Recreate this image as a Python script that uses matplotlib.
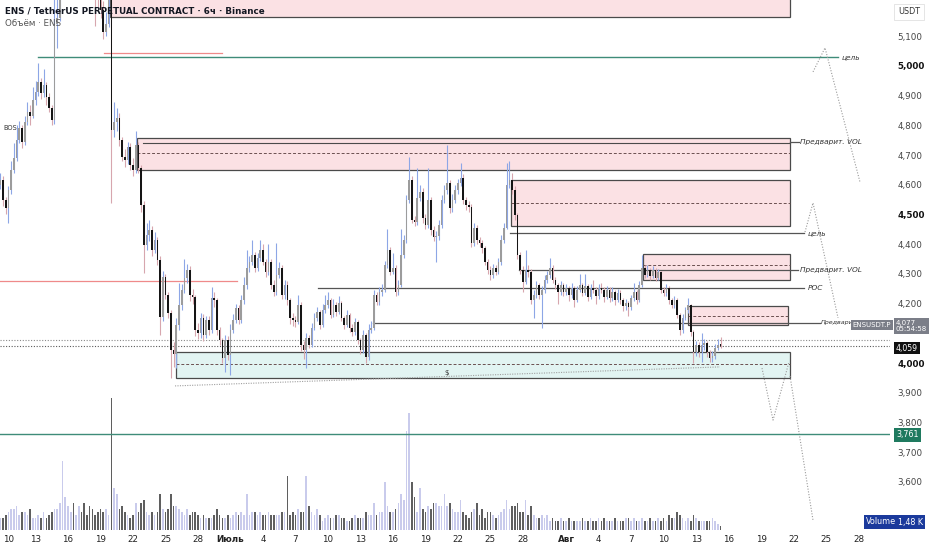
import matplotlib
matplotlib.use("Agg")
import numpy as np
import matplotlib.pyplot as plt
from matplotlib.patches import Rectangle

# ENS/USDT perp, 6h candles. time axis = days since Jun 1 (Jun 10 00:00 -> 9)
first_t = 8.75
first_open = 4600

closes = [
    4616,
    4549, 4522, 4582, 4650,  4690, 4751, 4791, 4744,  4811, 4845, 4832, 4886,
    4912, 4946, 4909, 4936,  4896, 4859, 4818, 5140,  5160, 5300, 5350, 5420,
    5450, 5500, 5420, 5480,  5520, 5460, 5400, 5380,  5350, 5300, 5280, 5240,
    5190, 5115, 5140, 5250,  4785, 4811, 4825, 4751,  4694, 4683, 4727, 4667,
    4650, 4734, 4657, 4532,  4397, 4431, 4448, 4380,  4414, 4347, 4155, 4290,
    4229, 4168, 4044, 4030,  4128, 4195, 4246, 4286,  4313, 4229, 4222, 4111,
    4101, 4152, 4094, 4145,  4111, 4219, 4212, 4111,  4077, 4017, 4077, 4027,
    4111, 4145, 4185, 4145,  4212, 4263, 4320, 4340,  4364, 4320, 4354, 4380,
    4340, 4306, 4340, 4263,  4239, 4296, 4320, 4229,  4263, 4212, 4152, 4145,
    4138, 4195, 4061, 4044,  4084, 4061, 4118, 4152,  4172, 4128, 4178, 4195,
    4212, 4162, 4195, 4172,  4202, 4152, 4128, 4162,  4118, 4104, 4138, 4077,
    4044, 4094, 4020, 4111,  4118, 4229, 4205, 4239,  4246, 4330, 4380, 4306,
    4320, 4239, 4263, 4364,  4414, 4549, 4616, 4481,  4475, 4556, 4576, 4488,
    4465, 4549, 4448, 4424,  4428, 4465, 4549, 4582,  4606, 4522, 4549, 4582,
    4606, 4623, 4549, 4532,  4525, 4404, 4455, 4414,  4404, 4387, 4340, 4313,
    4296, 4320, 4306, 4340,  4414, 4455, 4599, 4616,  4582, 4498, 4364, 4313,
    4273, 4313, 4306, 4212,  4229, 4263, 4229, 4246,  4280, 4296, 4320, 4280,
    4263, 4239, 4263, 4239,  4253, 4229, 4253, 4212,  4246, 4263, 4236, 4259,
    4222, 4253, 4246, 4226,  4253, 4246, 4222, 4246,  4219, 4239, 4212, 4236,
    4212, 4192, 4202, 4188,  4219, 4239, 4212, 4263,  4320, 4296, 4313, 4293,
    4313, 4286, 4306, 4246,  4236, 4253, 4212, 4195,  4212, 4162, 4111, 4152,
    4178, 4195, 4104, 4037,  4061, 4037, 4061, 4067,  4037, 4017, 4024, 4051,
    4061, 4059,
]

highs = [
    4640,
    4630, 4560, 4595, 4680,  4740, 4800, 4815, 4800,  4830, 4880, 4870, 4930,
    4950, 5010, 4960, 4990,  4945, 4910, 4870, 5420,  5300, 5330, 5400, 5460,
    5500, 5550, 5520, 5510,  5560, 5530, 5470, 5420,  5400, 5370, 5320, 5300,
    5260, 5220, 5180, 5290,  5290, 4880, 4860, 4840,  4760, 4720, 4745, 4740,
    4690, 4780, 4745, 4665,  4545, 4470, 4480, 4460,  4440, 4425, 4360, 4310,
    4300, 4240, 4180, 4070,  4150, 4270, 4265, 4350,  4335, 4325, 4250, 4230,
    4135, 4170, 4165, 4160,  4160, 4255, 4240, 4220,  4120, 4085, 4095, 4090,
    4130, 4165, 4200, 4195,  4230, 4290, 4380, 4360,  4414, 4375, 4370, 4414,
    4400, 4350, 4400, 4350,  4280, 4405, 4340, 4330,  4280, 4275, 4220, 4170,
    4160, 4230, 4205, 4075,  4100, 4095, 4135, 4170,  4190, 4180, 4200, 4230,
    4240, 4220, 4215, 4205,  4225, 4210, 4160, 4180,  4170, 4130, 4150, 4145,
    4085, 4110, 4100, 4130,  4140, 4245, 4240, 4255,  4265, 4345, 4450, 4390,
    4370, 4330, 4280, 4450,  4430, 4565, 4694, 4630,  4495, 4655, 4600, 4590,
    4500, 4657, 4560, 4460,  4445, 4480, 4565, 4600,  4734, 4615, 4570, 4600,
    4620, 4673, 4635, 4560,  4545, 4535, 4470, 4465,  4425, 4415, 4395, 4350,
    4325, 4335, 4330, 4355,  4430, 4470, 4673, 4680,  4640, 4595, 4505, 4375,
    4325, 4380, 4330, 4315,  4245, 4275, 4270, 4260,  4295, 4310, 4355, 4330,
    4290, 4270, 4275, 4270,  4265, 4260, 4270, 4260,  4260, 4300, 4270, 4300,
    4265, 4265, 4280, 4255,  4265, 4270, 4255, 4260,  4255, 4255, 4245, 4250,
    4245, 4220, 4215, 4210,  4230, 4270, 4245, 4275,  4364, 4330, 4330, 4320,
    4325, 4320, 4315, 4310,  4255, 4265, 4260, 4220,  4225, 4220, 4170, 4165,
    4190, 4220, 4200, 4110,  4075, 4070, 4100, 4080,  4075, 4045, 4040, 4065,
    4080, 4088,
]

lows = [
    4585,
    4530, 4500, 4471, 4570,  4640, 4680, 4740, 4725,  4735, 4800, 4800, 4825,
    4870, 4900, 4890, 4895,  4870, 4845, 4800, 4805,  5060, 5150, 5280, 5330,
    5400, 5430, 5400, 5400,  5460, 5440, 5380, 5340,  5320, 5260, 5135, 5200,
    5160, 5090, 5100, 5130,  4540, 4760, 4780, 4730,  4680, 4660, 4670, 4650,
    4630, 4640, 4640, 4510,  4303, 4380, 4410, 4360,  4370, 4330, 4094, 4140,
    4215, 4150, 3950, 3985,  3983, 4110, 4180, 4235,  4270, 4210, 4200, 4090,
    4080, 4085, 4075, 4085,  4095, 4100, 4190, 4095,  4060, 4000, 3970, 4010,
    3960, 4100, 4135, 4130,  4135, 4200, 4250, 4305,  4330, 4305, 4310, 4345,
    4330, 4290, 4295, 4250,  4225, 4230, 4285, 4215,  4215, 4195, 4130, 4125,
    4120, 4130, 4040, 4015,  3983, 4050, 4055, 4110,  4140, 4115, 4120, 4170,
    4185, 4150, 4155, 4160,  4165, 4140, 4115, 4120,  4105, 4090, 4095, 4065,
    4030, 4035, 4000, 4010,  4100, 4110, 4195, 4195,  4225, 4240, 4320, 4295,
    4300, 4225, 4230, 4255,  4355, 4405, 4540, 4470,  4460, 4465, 4545, 4470,
    4450, 4455, 4430, 4410,  4340, 4415, 4455, 4540,  4570, 4505, 4510, 4540,
    4570, 4595, 4535, 4515,  4510, 4390, 4395, 4400,  4390, 4370, 4330, 4300,
    4280, 4285, 4295, 4300,  4330, 4405, 4450, 4590,  4570, 4480, 4350, 4300,
    4240, 4265, 4290, 4200,  4150, 4220, 4215, 4118,  4235, 4270, 4285, 4270,
    4250, 4200, 4230, 4225,  4230, 4210, 4220, 4190,  4205, 4240, 4225, 4230,
    4210, 4215, 4235, 4200,  4215, 4235, 4205, 4215,  4205, 4210, 4195, 4205,
    4200, 4175, 4180, 4160,  4180, 4210, 4200, 4205,  4255, 4285, 4290, 4280,
    4285, 4275, 4280, 4235,  4225, 4225, 4200, 4185,  4185, 4150, 4095, 4100,
    4145, 4170, 4090, 4000,  4025, 4020, 4003, 4045,  4020, 4005, 4005, 4015,
    4045, 4050,
]

# volume, thousands of ENS
volumes = [
    4,
    4, 5, 6, 7,  7, 8, 5, 6,  6, 5, 7, 4,  4, 5, 4, 6,  4, 5, 6, 7,
    7, 9, 23, 11,  8, 6, 9, 5,  8, 6, 9, 5,  8, 7, 5, 6,  7, 6, 7, 5,
    44, 14, 12, 7,  8, 6, 5, 4,  5, 9, 6, 9,  10, 6, 5, 6,  5, 6, 12, 7,
    6, 7, 12, 8,  8, 7, 6, 5,  7, 5, 6, 6,  5, 4, 5, 4,  4, 4, 5, 7,
    5, 4, 4, 5,  4, 5, 6, 5,  6, 5, 12, 5,  6, 6, 5, 6,  5, 5, 6, 5,
    5, 5, 5, 6,  6, 18, 5, 6,  5, 7, 6, 6,  18, 8, 6, 5,  7, 5, 3, 4,
    5, 4, 4, 5,  5, 4, 4, 3,  3, 4, 5, 4,  4, 4, 6, 5,  5, 9, 5, 6,
    6, 16, 8, 6,  6, 7, 9, 12,  10, 33, 39, 16,  11, 6, 14, 7,  6, 8, 7, 9,
    9, 8, 8, 12,  8, 9, 7, 6,  6, 10, 6, 5,  4, 6, 7, 9,  5, 7, 4, 6,
    6, 5, 4, 5,  6, 7, 10, 7,  8, 8, 9, 6,  6, 10, 5, 8,  5, 4, 4, 5,
    4, 5, 3, 4,  3, 3, 4, 3,  3, 4, 3, 3,  3, 3, 4, 3,  3, 4, 3, 3,
    4, 3, 4, 3,  3, 3, 4, 3,  3, 3, 4, 4,  3, 4, 3, 3,  4, 3, 3, 4,
    3, 3, 4, 3,  4, 3, 5, 4,  4, 6, 5, 4,  3, 4, 3, 5,  4, 3, 3, 3,
    3, 3, 4, 3,
    2, 1.48,
]

date_ticks = [9, 12, 15, 18, 21, 24, 27, 30, 33, 36, 39, 42, 45, 48, 51, 54, 57,
              61, 64, 67, 70, 73, 76, 79, 82, 85, 88]
date_labels = ["10", "13", "16", "19", "22", "25", "28", "Июль", "4", "7", "10",
               "13", "16", "19", "22", "25", "28", "Авг", "4", "7", "10", "13",
               "16", "19", "22", "25", "28"]
# 4,100 sits under the last-price tags in the original, so it shows no label
price_ticks = [3600, 3700, 3800, 3900, 4000, 4200, 4300, 4400, 4500, 4600,
               4700, 4800, 4900, 5000, 5100]

W, H = 932, 550
plt.rcParams["font.family"] = ["DejaVu Sans"]
fig = plt.figure(figsize=(W / 100, H / 100), dpi=100)
fig.patch.set_facecolor("white")

rect = [0, 20 / H, 890 / W, 530 / H]
axv = fig.add_axes(rect)
ax = fig.add_axes(rect, sharex=axv)
ax.patch.set_visible(False)

n = min(len(closes), len(highs), len(lows), len(volumes))
c = np.array(closes[:n], float)
o = np.concatenate([[first_open], c[:-1]])
hi = np.array(highs[:n], float)
lo = np.array(lows[:n], float)
vol = np.array(volumes[:n], float)
t = first_t + 0.25 * np.arange(n)
up = c >= o

# volume
vcol = np.where(up, "#c9cbec", "#5f5f5f")
axv.bar(t, vol, width=0.15, color=vcol, linewidth=0)
axv.set_ylim(0, 177)
axv.axis("off")

# candles
wick = np.where(up, "#8da6e6", "#d7a6ae")
body = np.where(up, "#9c9c9c", "#151515")
ax.vlines(t, lo, hi, colors=wick, lw=0.8, zorder=3)
ax.bar(t, np.maximum(np.abs(c - o), 4), bottom=np.minimum(o, c), width=0.15,
       color=body, linewidth=0, zorder=4)

ax.set_xlim(8.72, 90.9)
ax.set_ylim(3438, 5222)

box_ec = "#4a4a4a"
pink = "#fbe1e4"


def zone(t0, t1, p0, p1, fc, mid=None):
    ax.add_patch(Rectangle((t0, p0), t1 - t0, p1 - p0, fc=fc, ec=box_ec, lw=0.9, zorder=2))
    if mid is not None:
        ax.plot([t0, t1], [mid, mid], ls=(0, (3, 2)), color="#6b5050", lw=0.7, zorder=2)


def note(tx, p, s, size=5.3):
    ax.text(tx, p, s, fontsize=size, style="italic", color="#333333", va="center",
            ha="left", zorder=6, clip_on=False)


# supply / demand zones
zone(18.9, 81.67, 5165, 5400, pink)
zone(21.37, 81.67, 4650, 4758, pink, 4707)
ax.plot([21.9, 81.67], [4741, 4741], color=box_ec, lw=0.8, zorder=2)
zone(55.91, 81.67, 4461, 4616, pink, 4539)
zone(68.1, 81.67, 4280, 4367, pink, 4330)
zone(72.25, 81.48, 4128, 4192, pink, 4158)
zone(24.97, 81.67, 3950, 4037, "#e2f4f2", 3997)
ax.text(50.0, 3966, "$", fontsize=5, color="#333333", ha="center", va="center", zorder=5)

# levels
lc = "#555555"
ax.plot([81.67, 82.5], [4744, 4744], color=lc, lw=0.9, zorder=2)
note(82.6, 4744, "Предварит. VOL")
ax.plot([55.81, 83.0], [4438, 4438], color=lc, lw=0.9, zorder=2)
note(83.3, 4438, "цель")
ax.plot([56.6, 82.4], [4313, 4313], color=lc, lw=0.9, zorder=2)
note(82.6, 4313, "Предварит. VOL")
ax.plot([38.09, 83.0], [4253, 4253], color=lc, lw=0.9, zorder=2)
note(83.3, 4253, "POC")
ax.plot([43.16, 84.4], [4135, 4135], color=lc, lw=0.9, zorder=2)
note(84.5, 4135, "Предварит", size=4.6)

teal = "#3f8c79"
ax.plot([12.23, 86.1], [5030, 5030], color=teal, lw=1.0, zorder=2)
note(86.4, 5030, "цель")
ax.axhline(3761, color=teal, lw=1.0, zorder=5)
ax.plot([8.72, 30.61], [4276, 4276], color="#ef8a8a", lw=0.9, zorder=2)
ax.plot([18.3, 29.2], [5044, 5044], color="#ef8a8a", lw=0.9, zorder=2)

ax.axhline(4077, color="#8a8a8a", lw=0.8, ls=(0, (1, 1.5)), zorder=2)
ax.axhline(4059, color="#5a5a5a", lw=0.8, ls=(0, (1, 1.5)), zorder=2)
ax.plot([24.88, 75.2], [3923, 3987], color="#a0a0a0", lw=0.8, ls=(0, (1, 1.2)), zorder=2)

# projected paths
dot = dict(color="#9a9a9a", lw=0.8, ls=(0, (1, 1.5)), zorder=2)
ax.plot([83.79, 84.9, 88.13], [4980, 5061, 4609], **dot)
ax.plot([83.05, 83.79, 86.1], [4441, 4539, 4152], **dot)
ax.plot([79.08, 80.1, 81.57], [3983, 3808, 4003], **dot)
ax.plot([81.67, 83.79], [3956, 3471], **dot)

ax.text(9.0, 4790, "BOS", fontsize=4.8, color="#333333", va="center", zorder=6)

# axes styling
for a in (ax, axv):
    for s in a.spines.values():
        s.set_visible(False)
ax.set_xticks(date_ticks)
ax.set_xticklabels(date_labels)
ax.tick_params(axis="x", length=0, pad=3.5, labelsize=6.3, labelcolor="#222222")
ax.yaxis.tick_right()
ax.set_yticks(price_ticks)
ax.set_yticklabels([f"{p:,}" for p in price_ticks])
ax.tick_params(axis="y", length=0, pad=5.5, labelsize=6.3, labelcolor="#444444")
for lbl in ax.get_xticklabels():
    if lbl.get_text() in ("Июль", "Авг"):
        lbl.set_fontweight("bold")
ax.get_xticklabels()[0].set_horizontalalignment("left")
for lbl in ax.get_yticklabels():
    if lbl.get_text() in ("5,000", "4,500", "4,000"):
        lbl.set_fontweight("bold")
        lbl.set_color("#111111")


def fx(px):
    return px / W


def fy(py):
    return 1 - py / H


def tag(px, py, s, bg, fg="white", size=5.8, ha="left"):
    fig.text(fx(px), fy(py), s, fontsize=size, color=fg, ha=ha, va="center", zorder=20,
             linespacing=1.15, bbox=dict(boxstyle="square,pad=0.25", fc=bg, ec="none"))


fig.text(fx(5), fy(11), "ENS / TetherUS PERPETUAL CONTRACT · 6ч · Binance", fontsize=6.3,
         fontweight="bold", color="#131722", va="center")
fig.text(fx(5), fy(24), "Объём · ENS", fontsize=6.3, color="#555555", va="center")
fig.text(fx(898), fy(12), "USDT", fontsize=5.8, color="#333333", va="center",
         bbox=dict(boxstyle="square,pad=0.45", fc="white", ec="#e0e0e0", lw=0.6))

tag(891, 325, "ENSUSDT.P", "#7b7e88", size=5.0, ha="right")
tag(896, 326, "4,077\n05:54:58", "#7b7e88", size=5.0)
tag(896, 348, "4,059", "#111111", size=5.6)
tag(896, 435, "3,761", "#1f7a5f")
tag(866, 522, "Volume", "#1b3a9c")
tag(898, 522, "1,48 K", "#1b3a9c")

fig.savefig("out.png", dpi=100, facecolor="white")
